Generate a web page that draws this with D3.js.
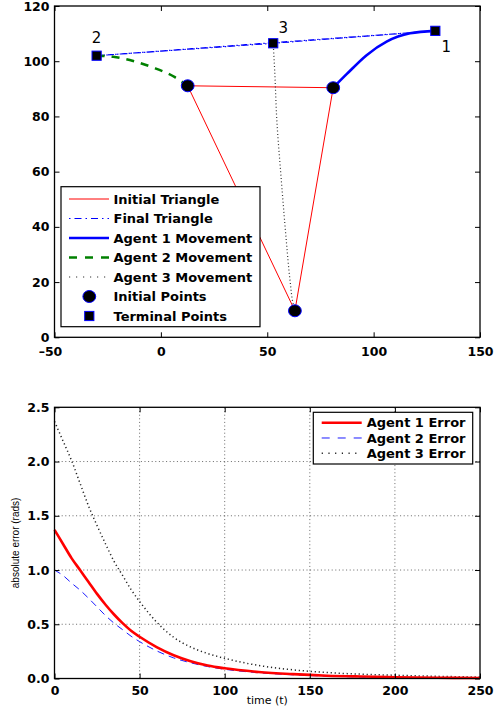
<!DOCTYPE html>
<html>
<head>
<meta charset="utf-8">
<script src="https://cdn.jsdelivr.net/npm/d3@7/dist/d3.min.js"></script>
<style>
  html, body { margin: 0; padding: 0; background: #fff; }
  svg { display: block; }
  .tick text { font-family: "DejaVu Sans", sans-serif; font-weight: bold; font-size: 12.5px; fill: #000; }
  .tick line { stroke: #000; stroke-width: 1; }
</style>
</head>
<body>
<svg id="chart" width="494" height="710"></svg>
<script>
// ---------- Formation plot data ----------
const agentIds = ["1", "2", "3"];
const initialX = [81, 12.6, 63];
const initialY = [90.4, 91.1, 9.6];
const terminalX = [129, -30.2, 52.8];
const terminalY = [111, 102, 106.5];

const agent1PathX = [81, 87.3, 96.7, 106.1, 117.1, 129];
const agent1PathY = [90.4, 95.3, 102.2, 107.1, 110.1, 111];
const agent2PathX = [12.6, 6.6, -3.6, -13, -22.4, -30.2];
const agent2PathY = [91.1, 94.2, 97.7, 100.1, 101.6, 102];
const agent3PathX = [63, 62.2, 60.7, 58.8, 56.6, 54.4, 53.6, 52.8];
const agent3PathY = [9.6, 12, 20.7, 36.4, 57, 80, 95, 106.5];

const topXTicks = [-50, 0, 50, 100, 150];
const topYTicks = [0, 20, 40, 60, 80, 100, 120];
const topLegendLabels = ["Initial Triangle", "Final Triangle", "Agent 1 Movement",
  "Agent 2 Movement", "Agent 3 Movement", "Initial Points", "Terminal Points"];

// ---------- Error plot data ----------
const timeSamples = [0, 5, 10, 15, 20, 25, 30, 35, 40, 45, 50, 60, 70, 80, 90, 100, 120, 140, 160, 180, 200, 225, 250];
const agent1Error = [1.37, 1.24, 1.11, 1.0, 0.89, 0.78, 0.68, 0.59, 0.51, 0.44, 0.385, 0.29, 0.215, 0.16, 0.12, 0.094, 0.06, 0.04, 0.026, 0.018, 0.012, 0.007, 0.004];
const agent2Error = [1.0, 0.95, 0.88, 0.815, 0.74, 0.66, 0.58, 0.51, 0.45, 0.39, 0.34, 0.255, 0.19, 0.145, 0.11, 0.085, 0.053, 0.034, 0.022, 0.014, 0.009, 0.005, 0.003];
const agent3Error = [2.37, 2.19, 2.01, 1.8, 1.59, 1.41, 1.24, 1.08, 0.95, 0.82, 0.71, 0.52, 0.38, 0.29, 0.23, 0.186, 0.12, 0.08, 0.055, 0.04, 0.03, 0.02, 0.013];

const botXTicks = [0, 50, 100, 150, 200, 250];
const botYTicks = [0, 0.5, 1, 1.5, 2, 2.5];
const botLegendLabels = ["Agent 1 Error", "Agent 2 Error", "Agent 3 Error"];
const botXLabel = "time (t)";
const botYLabel = "absolute error (rads)";

const svg = d3.select("#chart");
const BOLD = "DejaVu Sans";

// Line styles; legendDash is used for the short legend samples
const styles = {
  initTri:  { stroke: "#ff0000", width: 1, dash: null },
  finalTri: { stroke: "#0000ff", width: 1.2, dash: "6,3,1.5,3", legendDash: "1.5,4,7,4" },
  mov1:     { stroke: "#0000ff", width: 2.6, dash: null },
  mov2:     { stroke: "#008000", width: 2.6, dash: "8,7", legendDash: "8,8" },
  mov3:     { stroke: "#333333", width: 1.2, dash: "1,2.4", legendDash: "1.2,5.8" },
  err1:     { stroke: "#ff0000", width: 2.6, dash: null },
  err2:     { stroke: "#1a1aff", width: 1, dash: "7,5", legendDash: "8,8" },
  err3:     { stroke: "#222222", width: 1.5, dash: "1.2,2.8", legendDash: "1.2,5.5" }
};
function applyStyle(sel, s, legend) {
  sel.attr("fill", "none").attr("stroke", s.stroke).attr("stroke-width", s.width);
  const d = legend && s.legendDash ? s.legendDash : s.dash;
  if (d) sel.attr("stroke-dasharray", d);
  return sel;
}

// Draws a boxed axes frame with inward ticks on all four sides
function frame(g, x, y, xTicks, yTicks, pad) {
  const [x0, x1] = x.range();
  const [y0, y1] = y.range();
  const xb = g.append("g").attr("transform", `translate(0,${y0})`)
    .call(d3.axisBottom(x).tickValues(xTicks).tickSizeInner(-5).tickSizeOuter(0).tickPadding(pad)
      .tickFormat(d => (d < 0 ? "\u2013" + Math.abs(d) : d)));
  // negative labels sit a little to the left of their tick
  xb.selectAll(".tick text").filter(d => d < 0).attr("dx", -4.5);
  g.append("g").attr("transform", `translate(0,${y1})`)
    .call(d3.axisTop(x).tickValues(xTicks).tickSizeInner(-5).tickSizeOuter(0).tickFormat(""));
  g.append("g").attr("transform", `translate(${x0},0)`)
    .call(d3.axisLeft(y).tickValues(yTicks).tickSizeInner(-5).tickSizeOuter(0).tickPadding(5));
  g.append("g").attr("transform", `translate(${x1},0)`)
    .call(d3.axisRight(y).tickValues(yTicks).tickSizeInner(-5).tickSizeOuter(0).tickFormat(""));
  g.selectAll(".domain").remove();
  g.selectAll(".tick text").attr("font-family", null).attr("font-size", null);
  g.append("rect").attr("x", x0).attr("y", y1).attr("width", x1 - x0).attr("height", y0 - y1)
    .attr("fill", "none").attr("stroke", "#000").attr("stroke-width", 1.3);
}

// ================= Formation plot =================
const xT = d3.scaleLinear().domain([-50, 150]).range([54.5, 480]);
const yT = d3.scaleLinear().domain([0, 120]).range([337.3, 6]);
const topG = svg.append("g");

const lineT = d3.line().x(d => xT(d[0])).y(d => yT(d[1]));
const curveX = d3.line().x(d => xT(d[0])).y(d => yT(d[1])).curve(d3.curveMonotoneX);
const curveY = d3.line().x(d => xT(d[0])).y(d => yT(d[1])).curve(d3.curveMonotoneY);
const zipXY = (xs, ys) => xs.map((v, i) => [v, ys[i]]);

const initPts = zipXY(initialX, initialY);
const termPts = zipXY(terminalX, terminalY);

// initial and final triangles
applyStyle(topG.append("path").attr("d", lineT([...initPts, initPts[0]])), styles.initTri);
applyStyle(topG.append("path").attr("d", lineT([termPts[0], termPts[1], termPts[2], termPts[0]])), styles.finalTri);

// agent trajectories
applyStyle(topG.append("path").attr("d", curveX(zipXY(agent1PathX, agent1PathY))), styles.mov1);
applyStyle(topG.append("path").attr("d", curveX(zipXY(agent2PathX, agent2PathY).reverse())), styles.mov2);
applyStyle(topG.append("path").attr("d", curveY(zipXY(agent3PathX, agent3PathY))), styles.mov3);

// start / end markers
function circleMarker(g, cx, cy) {
  g.append("ellipse").attr("cx", cx).attr("cy", cy).attr("rx", 6.4).attr("ry", 6)
    .attr("fill", "#000").attr("stroke", "#0000ff").attr("stroke-width", 1);
}
function squareMarker(g, cx, cy) {
  g.append("rect").attr("x", cx - 4.6).attr("y", cy - 4.6).attr("width", 9.2).attr("height", 9.2)
    .attr("fill", "#000").attr("stroke", "#0000ff").attr("stroke-width", 1);
}
initPts.forEach(p => circleMarker(topG, xT(p[0]), yT(p[1])));
termPts.forEach(p => squareMarker(topG, xT(p[0]), yT(p[1])));

// agent number labels next to terminal points
const labelOffsets = [[11, 21], [0, -13], [10, -10]];
termPts.forEach((p, i) => {
  topG.append("text").attr("x", xT(p[0]) + labelOffsets[i][0]).attr("y", yT(p[1]) + labelOffsets[i][1])
    .attr("text-anchor", "middle").attr("font-family", BOLD).attr("font-size", 15).text(agentIds[i]);
});

frame(topG, xT, yT, topXTicks, topYTicks, 9.8);

// legend
const lgT = topG.append("g").attr("transform", "translate(61,186.7)");
lgT.append("rect").attr("width", 199).attr("height", 140).attr("fill", "#fff")
  .attr("stroke", "#000").attr("stroke-width", 1.2);
const topLegendKinds = [styles.initTri, styles.finalTri, styles.mov1, styles.mov2, styles.mov3, "circle", "square"];
topLegendLabels.forEach((lab, i) => {
  const cy = 12.3 + i * 19.5;
  const k = topLegendKinds[i];
  if (k === "circle") circleMarker(lgT, 28.3, cy);
  else if (k === "square") squareMarker(lgT, 28.3, cy);
  else applyStyle(lgT.append("line").attr("x1", 8).attr("x2", 48).attr("y1", cy).attr("y2", cy), k, true);
  lgT.append("text").attr("x", 52.5).attr("y", cy).attr("dy", "0.36em")
    .attr("font-family", BOLD).attr("font-weight", "bold").attr("font-size", 13).text(lab);
});

// ================= Error plot =================
const xB = d3.scaleLinear().domain([0, 250]).range([54.5, 480]);
const yB = d3.scaleLinear().domain([0, 2.5]).range([678.5, 407.3]);
const botG = svg.append("g");

// dotted grid
const grid = botG.append("g").attr("stroke", "#000").attr("stroke-opacity", 0.75)
  .attr("stroke-width", 0.8).attr("stroke-dasharray", "1,2.6");
botXTicks.slice(1, -1).forEach(t => grid.append("line")
  .attr("x1", xB(t)).attr("x2", xB(t)).attr("y1", yB(0)).attr("y2", yB(2.5)));
botYTicks.slice(1, -1).forEach(t => grid.append("line")
  .attr("x1", xB(0)).attr("x2", xB(250)).attr("y1", yB(t)).attr("y2", yB(t)));

const lineB = d3.line().x((d, i) => xB(timeSamples[i])).y(d => yB(d)).curve(d3.curveMonotoneX);
applyStyle(botG.append("path").attr("d", lineB(agent3Error)), styles.err3);
applyStyle(botG.append("path").attr("d", lineB(agent2Error)), styles.err2);
applyStyle(botG.append("path").attr("d", lineB(agent1Error)), styles.err1);

frame(botG, xB, yB, botXTicks, botYTicks, 7.5);

botG.append("text").attr("x", (xB(0) + xB(250)) / 2).attr("y", 703.5).attr("text-anchor", "middle")
  .attr("font-family", "DejaVu Sans").attr("font-size", 11).text(botXLabel);
botG.append("text").attr("transform", `translate(19,${(yB(0) + yB(2.5)) / 2}) rotate(-90)`)
  .attr("text-anchor", "middle").attr("font-family", "Liberation Sans").attr("font-size", 10)
  .text(botYLabel);

// legend
const lgB = botG.append("g").attr("transform", "translate(313.3,412.3)");
lgB.append("rect").attr("width", 159.4).attr("height", 51.7).attr("fill", "#fff")
  .attr("stroke", "#000").attr("stroke-width", 1.2);
const botLegendKinds = [styles.err1, styles.err2, styles.err3];
botLegendLabels.forEach((lab, i) => {
  const cy = 10.4 + i * 15.3;
  applyStyle(lgB.append("line").attr("x1", 8.4).attr("x2", 48.4).attr("y1", cy).attr("y2", cy), botLegendKinds[i], true);
  lgB.append("text").attr("x", 53.4).attr("y", cy).attr("dy", "0.36em")
    .attr("font-family", BOLD).attr("font-weight", "bold").attr("font-size", 13).text(lab);
});
</script>
</body>
</html>
